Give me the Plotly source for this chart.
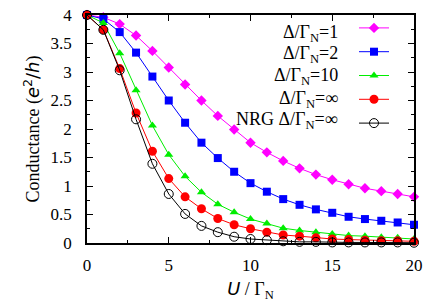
import plotly.graph_objects as go

U = list(range(0, 21))
g_d1 = [4.0, 3.96, 3.84, 3.64, 3.37, 3.08, 2.78, 2.50, 2.23, 1.99, 1.76, 1.59, 1.44, 1.31, 1.20, 1.11, 1.03, 0.96, 0.91, 0.86, 0.81]
g_d2 = [4.0, 3.93, 3.70, 3.34, 2.92, 2.50, 2.11, 1.76, 1.49, 1.25, 1.05, 0.90, 0.77, 0.67, 0.59, 0.53, 0.46, 0.42, 0.39, 0.36, 0.32]
g_d10 = [4.0, 3.86, 3.33, 2.68, 2.06, 1.55, 1.17, 0.89, 0.68, 0.54, 0.42, 0.34, 0.26, 0.22, 0.19, 0.16, 0.13, 0.12, 0.10, 0.09, 0.07]
g_inf = [4.0, 3.74, 3.06, 2.28, 1.61, 1.13, 0.81, 0.60, 0.43, 0.32, 0.25, 0.19, 0.14, 0.12, 0.09, 0.07, 0.06, 0.05, 0.04, 0.04, 0.03]
g_nrg = [4.0, 3.74, 3.03, 2.17, 1.39, 0.86, 0.51, 0.30, 0.19, 0.11, 0.07, 0.05, 0.03, 0.02, 0.02, 0.01, 0.01, 0.01, 0.01, 0.01, 0.005]

labels = ["Δ/Γ<sub>N</sub>=1", "Δ/Γ<sub>N</sub>=2", "Δ/Γ<sub>N</sub>=10",
          "Δ/Γ<sub>N</sub>=∞", "NRG Δ/Γ<sub>N</sub>=∞"]

SERIF = "Liberation Serif"
fig = go.Figure()
styles = [
    (g_d1, "#ff00ff", dict(symbol="diamond", size=8, color="#ff00ff")),
    (g_d2, "#0000ff", dict(symbol="square", size=8, color="#0000ff")),
    (g_d10, "#00ee00", dict(symbol="triangle-up", size=8, color="#00ee00")),
    (g_inf, "#ff0000", dict(symbol="circle", size=9, color="#ff0000")),
    (g_nrg, "#000000", dict(symbol="circle-open", size=9, color="#000000", line=dict(width=1))),
]
for i, (ys, col, mk) in enumerate(styles):
    fig.add_trace(go.Scatter(x=U, y=ys, mode="lines+markers", name="",
                             line=dict(color=col, width=1),
                             marker=mk, legendgroup=str(i), showlegend=True, cliponaxis=False))

ann_y_px = [30, 52, 73, 96, 118]
for lab, py in zip(labels, ann_y_px):
    fig.add_annotation(x=(340 - 87) / 327, y=(243 - py) / 228, xref="paper", yref="paper",
                       text=lab, showarrow=False, xanchor="right", yanchor="middle",
                       font=dict(family=SERIF, size=18, color="black"), yshift=-3)

axis_common = dict(showline=True, linecolor="black", linewidth=1.5, mirror="ticks",
                   ticks="inside", ticklen=6, tickwidth=1, tickcolor="black",
                   showgrid=False, zeroline=False, automargin=False,
                   tickfont=dict(family=SERIF, size=17, color="black"))
fig.update_xaxes(range=[0, 20], dtick=5, tick0=0,
                 minor=dict(ticks="inside", ticklen=3, dtick=2.5, tickcolor="black", showgrid=False),
                 title=dict(text="<i><span style='font-family:DejaVu Sans'>U</span></i> / Γ<sub>N</sub>",
                            font=dict(family=SERIF, size=18, color="black"), standoff=8),
                 ticklabelstandoff=6, **axis_common)
fig.update_yaxes(range=[0, 4], dtick=0.5, tick0=0,
                 minor=dict(ticks="inside", ticklen=3, dtick=0.25, tickcolor="black", showgrid=False),
                 title=dict(text="Conductance (<span style='font-family:DejaVu Sans'><i>e</i><sup>2</sup>/<i>h</i></span>)",
                            font=dict(family=SERIF, size=18, color="black"), standoff=6),
                 ticklabelstandoff=10, **axis_common)

fig.update_layout(
    width=436, height=305,
    margin=dict(l=87, r=22, t=15, b=62, autoexpand=False),
    paper_bgcolor="white", plot_bgcolor="white",
    legend=dict(x=(354 - 87) / 327, y=(243 - 11) / 228, xanchor="left", yanchor="top",
                bgcolor="rgba(0,0,0,0)", tracegroupgap=0, font=dict(size=16, family=SERIF),
                itemwidth=30),
)
fig.write_html("out.html", config={"displayModeBar": False},
               post_script="document.body.style.margin='0';document.body.style.overflow='hidden';")
